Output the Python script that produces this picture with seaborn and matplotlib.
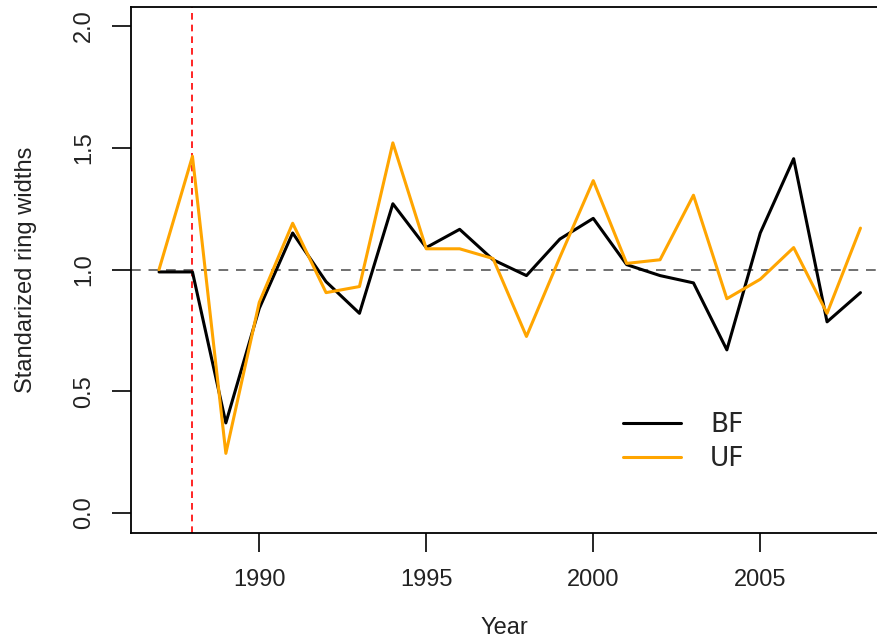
import numpy as np
import pandas as pd
import matplotlib
matplotlib.use("Agg")
import matplotlib.pyplot as plt
import seaborn as sns
from matplotlib.lines import Line2D

years = list(range(1987, 2009))
bf = [0.99, 0.99, 0.37, 0.84, 1.15, 0.95, 0.82, 1.27, 1.09, 1.165, 1.04,
      0.975, 1.125, 1.21, 1.02, 0.975, 0.945, 0.67, 1.15, 1.455, 0.785, 0.905]
uf = [1.00, 1.465, 0.245, 0.865, 1.19, 0.905, 0.93, 1.52, 1.085, 1.085, 1.045,
      0.725, 1.05, 1.365, 1.025, 1.04, 1.305, 0.88, 0.96, 1.09, 0.82, 1.17]
series_names = ["BF", "UF"]
y_ticks = [0.0, 0.5, 1.0, 1.5, 2.0]
x_ticks = [1990, 1995, 2000, 2005]

df = pd.DataFrame({
    "Year": years * 2,
    "value": bf + uf,
    "series": ["BF"] * len(years) + ["UF"] * len(years),
})

sns.set_style("white")
plt.rcParams["font.family"] = ["Liberation Sans", "DejaVu Sans"]

fig = plt.figure(figsize=(8.78, 6.40), dpi=100)
ax = fig.add_axes([131 / 878, 1 - 532.5 / 640, 747 / 878, (532.5 - 6.5) / 640])

sns.lineplot(data=df, x="Year", y="value", hue="series",
             palette={"BF": "black", "UF": "#FFA500"},
             linewidth=2.2, ax=ax, legend=False)

ax.axhline(1.0, color="#707070", linestyle=(0, (5, 4)), linewidth=1.4, zorder=0)
ax.axvline(1988, color="#FF0000", linestyle=(0, (4, 3)), linewidth=1.2, zorder=0)

ax.set_xlim(1986.16, 1986.16 + 747 / 33.4)
ax.set_ylim(-0.08, 2.08)
ax.set_xticks(x_ticks)
ax.set_xticklabels([str(t) for t in x_ticks])
ax.set_yticks(y_ticks)
ax.set_yticklabels([f"{t:.1f}" for t in y_ticks], rotation=90, va="center")

for s in ["left", "bottom", "top"]:
    ax.spines[s].set_visible(True)
    ax.spines[s].set_color("black")
    ax.spines[s].set_linewidth(1.3)
ax.spines["right"].set_visible(False)

ax.tick_params(axis="both", which="major", direction="out", length=14, width=1.2,
               color="black", labelsize=17, labelcolor="#222222", bottom=True, left=True)
ax.tick_params(axis="x", pad=12)
ax.tick_params(axis="y", pad=12)

ax.set_xlabel("Year", fontsize=17, color="#222222", labelpad=19)
ax.set_ylabel("Standarized ring widths", fontsize=17, color="#222222", labelpad=26)

handles = [Line2D([0], [0], color="black", lw=2.2),
           Line2D([0], [0], color="#FFA500", lw=2.2)]
leg = fig.legend(handles, series_names, loc="center left",
                 bbox_to_anchor=(623 / 878, 1 - 442 / 640), frameon=False,
                 handlelength=2.2, handletextpad=1.1, labelspacing=0.3,
                 borderpad=0, borderaxespad=0,
                 prop={"family": "DejaVu Sans", "size": 19, "weight": "medium"})

fig.savefig("out.png", dpi=100)
